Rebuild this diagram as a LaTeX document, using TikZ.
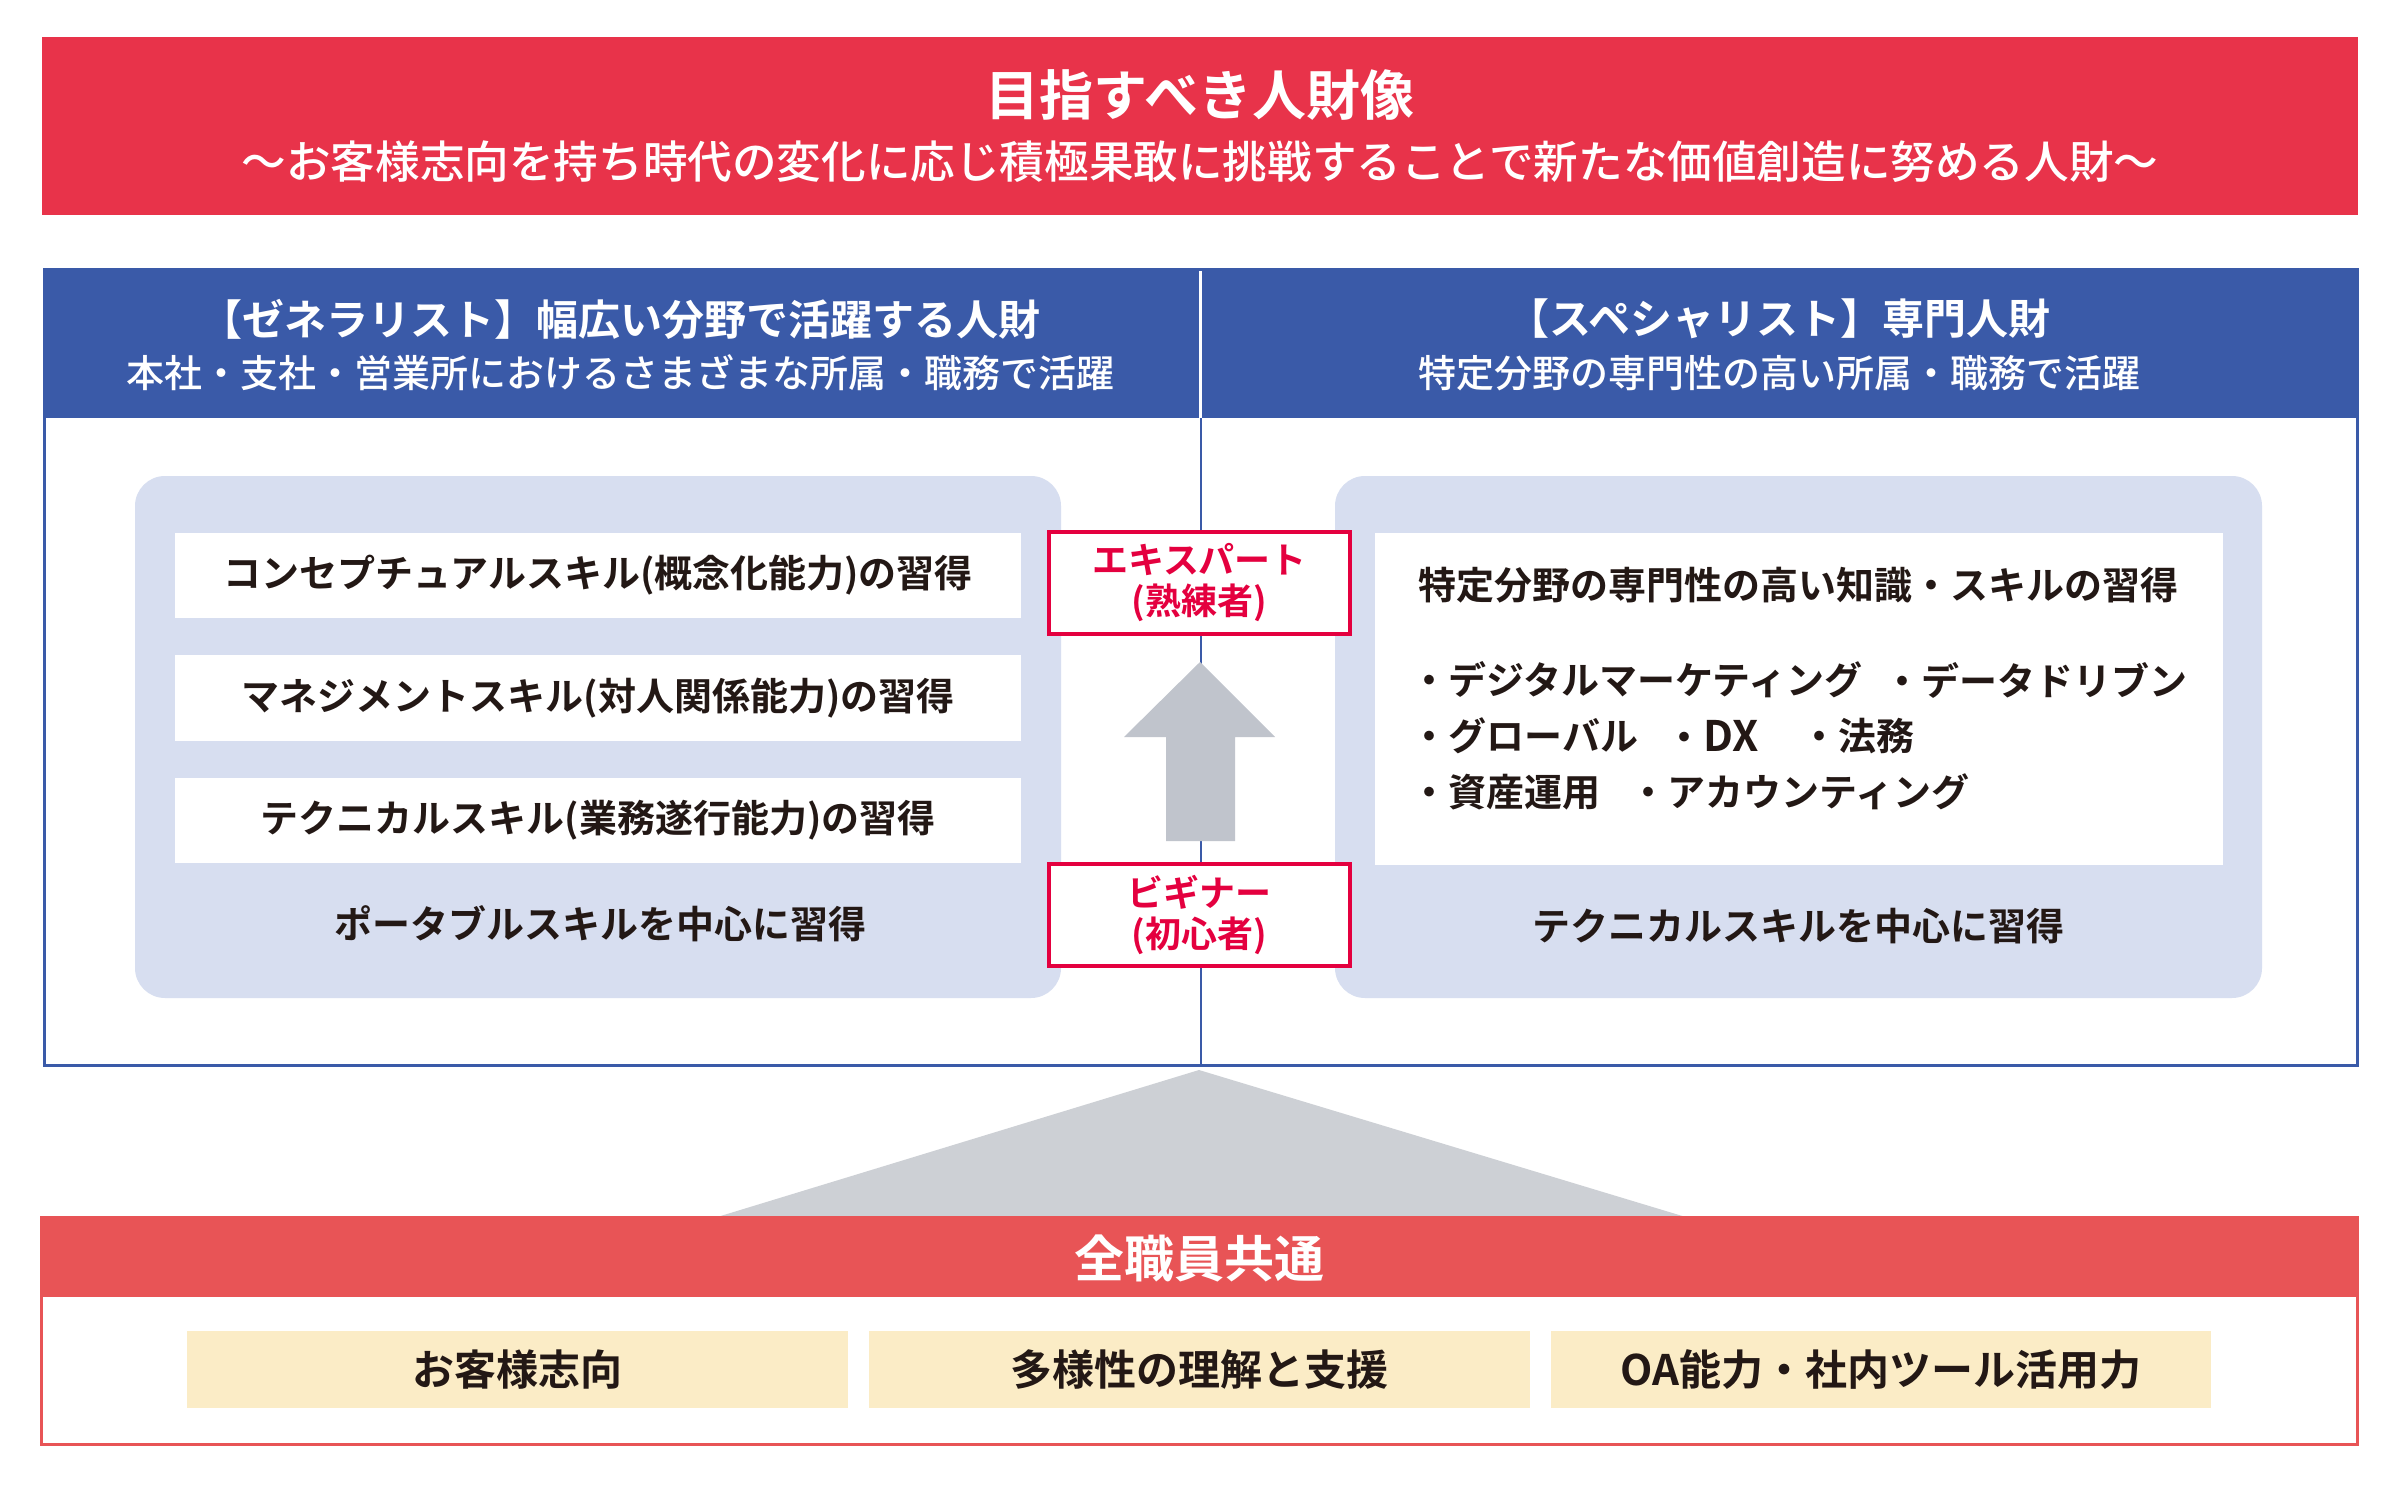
\documentclass[tikz,border=0pt]{standalone}
\usepackage{fontspec}
\setmainfont{Noto Sans CJK JP}
\IfFontExistsTF{Noto Sans CJK JP Medium}
  {\newfontfamily\jpmed{Noto Sans CJK JP Medium}}
  {\newfontfamily\jpmed{Noto Sans CJK JP}}
\newfontfamily\jpbold{Noto Sans CJK JP}[UprightFont={* Bold}]
\definecolor{topred}{HTML}{E8334A}
\definecolor{hdrblue}{HTML}{3A5AA8}
\definecolor{paleblue}{HTML}{D7DEF0}
\definecolor{txt}{HTML}{231815}
\definecolor{expred}{HTML}{E4003F}
\definecolor{arrowgray}{HTML}{C0C4CC}
\definecolor{trigray}{HTML}{CDD0D5}
\definecolor{botred}{HTML}{E85456}
\definecolor{paleyellow}{HTML}{FBECC6}
\tikzset{
  vtitle/.style={inner sep=0pt, text=white, font=\jpbold\fontsize{27}{32}\selectfont},
  vsub/.style={inner sep=0pt, text=white, font=\jpmed\fontsize{22.3}{27}\selectfont},
  htitle/.style={inner sep=0pt, text=white, font=\jpbold\fontsize{21}{25}\selectfont},
  hsub/.style={inner sep=0pt, text=white, font=\jpmed\fontsize{19}{23}\selectfont},
  item/.style={inner sep=0pt, text=txt, font=\jpbold\fontsize{19}{23}\selectfont},
  lvlbox/.style={draw=expred, line width=2pt, fill=white, text=expred,
     minimum width=150.5pt, minimum height=51pt, inner sep=0pt, align=center,
     font=\jpbold\fontsize{18}{20.5}\selectfont},
  common/.style={inner sep=0pt, text=white, font=\jpbold\fontsize{25}{30}\selectfont},
  yitem/.style={inner sep=0pt, text=txt, font=\jpbold\fontsize{21}{25}\selectfont},
}
\begin{document}
\begin{tikzpicture}[x=0.5pt,y=-0.5pt]
\useasboundingbox (0,0) rectangle (2408,1492);
\fill[white] (0,0) rectangle (2408,1492);

% ---- top banner
\fill[topred] (42,37) rectangle (2358,215);
\node[vtitle] (vt) at (1200,95) {目指すべき人財像};
\node[vsub] (vs) at (1200,162) {～お客様志向を持ち時代の変化に応じ積極果敢に挑戦することで新たな価値創造に努める人財～};

% ---- headers and frame
\fill[hdrblue] (43,269) rectangle (1199,418);
\fill[hdrblue] (1202,269) rectangle (2358,418);
\draw[hdrblue, line width=1.5pt] (44,269.75) rectangle (2357.25,1065.25);
\draw[hdrblue, line width=1pt] (1200.5,418) -- (1200.5,1065);
\node[htitle] (gt) at (620,319) {【ゼネラリスト】幅広い分野で活躍する人財};
\node[hsub] (gs) at (620,373) {本社・支社・営業所におけるさまざまな所属・職務で活躍};
\node[htitle] (st) at (1779,319) {【スペシャリスト】専門人財};
\node[hsub] (ss) at (1779,373) {特定分野の専門性の高い所属・職務で活躍};

% ---- left panel
\fill[paleblue, rounded corners=15pt] (135,476) rectangle (1061,998);
\fill[white] (175,533) rectangle (1021,618);
\fill[white] (175,655) rectangle (1021,741);
\fill[white] (175,778) rectangle (1021,863);
\node[item] (g1) at (598,575.5) {コンセプチュアルスキル(概念化能力)の習得};
\node[item] (g2) at (598,698) {マネジメントスキル(対人関係能力)の習得};
\node[item] (g3) at (598,820.5) {テクニカルスキル(業務遂行能力)の習得};
\node[item] (g4) at (600,924) {ポータブルスキルを中心に習得};

% ---- right panel
\fill[paleblue, rounded corners=15pt] (1335,476) rectangle (2262,998);
\fill[white] (1375,533) rectangle (2223,865);
\node[item, anchor=west] (s0) at (1418,585) {特定分野の専門性の高い知識・スキルの習得};
\node[item, anchor=west] (s1) at (1410,680) {・デジタルマーケティング};
\node[item, anchor=west] (s2) at (1883,680) {・データドリブン};
\node[item, anchor=west] (s3) at (1410,736) {・グローバル};
\node[item, anchor=west] (s4) at (1665,736) {・{\fontsize{21}{23}\selectfont DX}};
\node[item, anchor=west] (s5) at (1800,736) {・法務};
\node[item, anchor=west] (s6) at (1410,792) {・資産運用};
\node[item, anchor=west] (s7) at (1629,792) {・アカウンティング};
\node[item] (s8) at (1798,926) {テクニカルスキルを中心に習得};

% ---- level boxes and arrow
\node[lvlbox] (expert) at (1199.5,583) {エキスパート\\(熟練者)};
\node[lvlbox] (beginner) at (1199.5,915) {ビギナー\\(初心者)};
\fill[arrowgray] (1200,662) -- (1275,737) -- (1235,737) -- (1235,841)
   -- (1166,841) -- (1166,737) -- (1124,737) -- cycle;

% ---- pyramid and common base
\fill[trigray] (1199,1070) -- (1689,1218) -- (714,1218) -- cycle;
\fill[botred] (41,1217) rectangle (2358,1297);
\draw[botred, line width=1.5pt] (41.75,1217) rectangle (2357.25,1444.25);
\node[common] (all) at (1199,1258) {全職員共通};
\fill[paleyellow] (187,1331) rectangle (848,1408);
\fill[paleyellow] (869,1331) rectangle (1530,1408);
\fill[paleyellow] (1551,1331) rectangle (2211,1408);
\node[yitem] (c1) at (517.5,1369.5) {お客様志向};
\node[yitem] (c2) at (1199.5,1369.5) {多様性の理解と支援};
\node[yitem] (c3) at (1881,1369.5) {OA能力・社内ツール活用力};
\end{tikzpicture}
\end{document}
